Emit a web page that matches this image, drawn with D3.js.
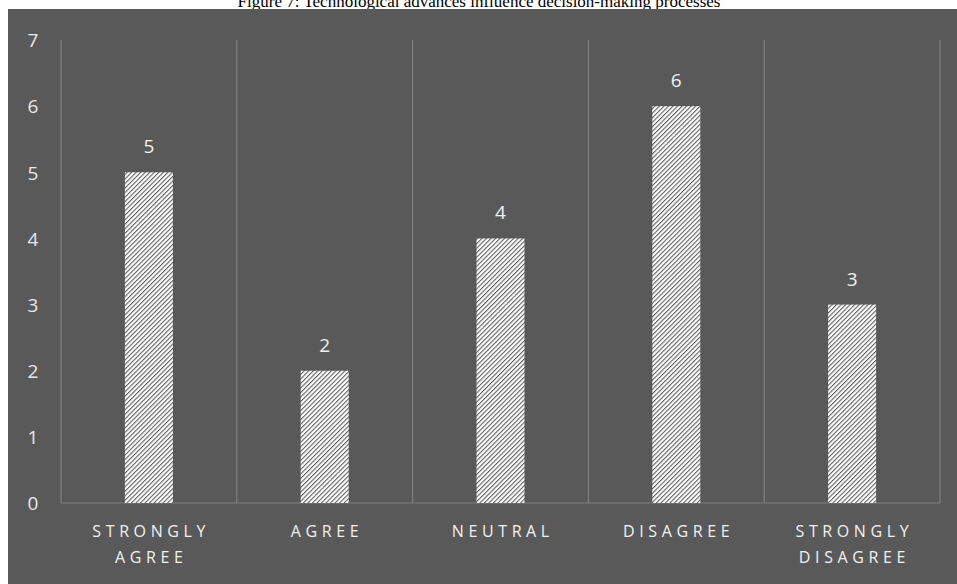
<!DOCTYPE html>
<html>
<head>
<meta charset="utf-8">
<script src="https://cdn.jsdelivr.net/npm/d3@7"></script>
<style>
  html, body { margin: 0; padding: 0; background: #ffffff; }
  svg { display: block; }
</style>
</head>
<body>
<svg id="chart" width="957" height="584"></svg>
<script>
// Survey responses: technological advances influence decision-making
const categories = [["STRONGLY", "AGREE"], ["AGREE"], ["NEUTRAL"], ["DISAGREE"], ["STRONGLY", "DISAGREE"]];
const categoryKeys = ["Strongly Agree", "Agree", "Neutral", "Disagree", "Strongly Disagree"];
const values = [5, 2, 4, 6, 3];
const yTicks = [0, 1, 2, 3, 4, 5, 6, 7];
const title = "Figure 7: Technological advances influence decision-making processes";

const svg = d3.select("#chart");
const W = 957, H = 584;
const panel = { x: 8, y: 9 };
const plot = { left: 61, right: 940, top: 40, bottom: 503 };
const labelFont = "Open Sans, Noto Sans, sans-serif";

// Title (sits just above the dark panel)
svg.append("text")
  .attr("x", 479).attr("y", 7)
  .attr("text-anchor", "middle")
  .attr("font-family", "Liberation Serif, Times New Roman, serif")
  .attr("font-size", 17)
  .attr("fill", "#000")
  .text(title);

// Dark chart panel
svg.append("rect")
  .attr("x", panel.x).attr("y", panel.y)
  .attr("width", W - panel.x).attr("height", H - panel.y)
  .attr("fill", "#595959");

// Diagonal hatch fill for the bars
const P = 3.2;
const defs = svg.append("defs");
const pat = defs.append("pattern")
  .attr("id", "hatch")
  .attr("patternUnits", "userSpaceOnUse")
  .attr("width", P).attr("height", P)
  .attr("patternTransform", "rotate(45)");
pat.append("rect").attr("width", P).attr("height", P).attr("fill", "#ffffff");
pat.append("rect").attr("x", 0).attr("y", 0).attr("width", 1.1).attr("height", P).attr("fill", "#606060");

const x = d3.scaleBand()
  .domain(categoryKeys)
  .range([plot.left, plot.right])
  .paddingInner(0)
  .paddingOuter(0);

const y = d3.scaleLinear()
  .domain([0, 7])
  .range([plot.bottom, plot.top]);

const grid = "#808080";

// Vertical category separators (including plot edges)
const edges = categoryKeys.map(k => x(k)).concat([plot.right]);
svg.append("g").selectAll("line")
  .data(edges)
  .join("line")
  .attr("x1", d => d).attr("x2", d => d)
  .attr("y1", plot.top).attr("y2", plot.bottom)
  .attr("stroke", grid).attr("stroke-width", 1.2);

// Baseline
svg.append("line")
  .attr("x1", plot.left).attr("x2", plot.right)
  .attr("y1", y(0)).attr("y2", y(0))
  .attr("stroke", grid).attr("stroke-width", 1.2);

// Y axis labels
const yAxis = d3.axisLeft(y).tickValues(yTicks).tickFormat(d3.format("d")).tickSize(0).tickPadding(0);
const yg = svg.append("g").attr("transform", `translate(38,0)`).call(yAxis);
yg.select(".domain").remove();
yg.selectAll("text")
  .attr("font-family", labelFont)
  .attr("font-size", 19)
  .attr("fill", "#e8e8e8")
  .attr("text-anchor", "middle")
  .attr("x", -5)
  .attr("dy", "0.36em");

// Bars
const barW = 48;
const data = categoryKeys.map((k, i) => ({ key: k, value: values[i], label: categories[i] }));
svg.append("g").selectAll("rect")
  .data(data)
  .join("rect")
  .attr("x", d => x(d.key) + x.bandwidth() / 2 - barW / 2)
  .attr("y", d => y(d.value))
  .attr("width", barW)
  .attr("height", d => y(0) - y(d.value))
  .attr("fill", "url(#hatch)");

// Value labels
svg.append("g").selectAll("text")
  .data(data)
  .join("text")
  .attr("x", d => x(d.key) + x.bandwidth() / 2)
  .attr("y", d => y(d.value) - 19)
  .attr("text-anchor", "middle")
  .attr("font-family", labelFont)
  .attr("font-size", 19)
  .attr("fill", "#f2f2f2")
  .text(d => d.value);

// Category labels (spaced capitals, wrapped)
const spacing = 4.6;
const xl = svg.append("g").selectAll("text")
  .data(data)
  .join("text")
  .attr("text-anchor", "middle")
  .attr("font-family", labelFont)
  .attr("font-size", 16)
  .attr("letter-spacing", spacing + "px")
  .attr("fill", "#f2f2f2");
xl.each(function(d) {
  const t = d3.select(this);
  d.label.forEach((line, j) => {
    t.append("tspan")
      .attr("x", x(d.key) + x.bandwidth() / 2 + spacing / 2)
      .attr("y", 537 + j * 26)
      .text(line);
  });
});
</script>
</body>
</html>
